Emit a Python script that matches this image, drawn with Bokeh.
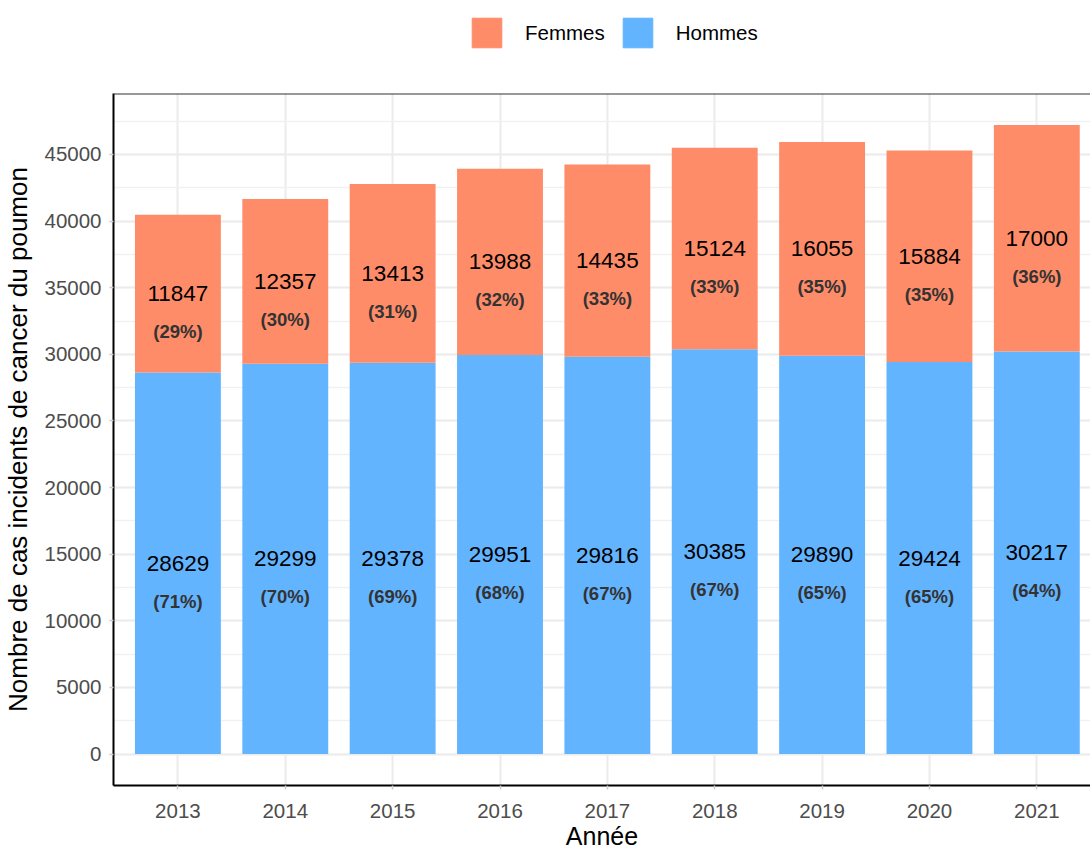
from bokeh.plotting import figure
from bokeh.layouts import column
from bokeh.models import (ColumnDataSource, Range1d, Legend, LegendItem,
                          SingleIntervalTicker, FixedTicker, Span)
from bokeh.core.properties import value
from bokeh.embed import file_html
from bokeh.resources import INLINE

years = [2013, 2014, 2015, 2016, 2017, 2018, 2019, 2020, 2021]
hommes = [28629, 29299, 29378, 29951, 29816, 30385, 29890, 29424, 30217]
femmes = [11847, 12357, 13413, 13988, 14435, 15124, 16055, 15884, 17000]
pct_hommes = [71, 70, 69, 68, 67, 67, 65, 65, 64]
pct_femmes = [29, 30, 31, 32, 33, 33, 35, 35, 36]

COL_F = "#FF8C69"
COL_H = "#63B4FF"
FONT = "Liberation Sans"
W = 1090

totals = [h + f for h, f in zip(hommes, femmes)]
pad = 0.05 * max(totals)

src = ColumnDataSource(dict(
    year=years,
    Hommes=hommes,
    Femmes=femmes,
    h_mid=[h / 2 for h in hommes],
    f_mid=[h + f / 2 for h, f in zip(hommes, femmes)],
    h_lab=[str(v) for v in hommes],
    f_lab=[str(v) for v in femmes],
    h_pct=["(%d%%)" % v for v in pct_hommes],
    f_pct=["(%d%%)" % v for v in pct_femmes],
))

# ---- legend strip (its bars lie outside its own view; only the legend shows) ----
lg = figure(width=W, height=75, output_backend="svg", toolbar_location=None,
            x_axis_type=None, y_axis_type=None,
            x_range=Range1d(0, 1), y_range=Range1d(0, 1),
            min_border=0)
lg.outline_line_color = None
lg.grid.visible = False
rf = lg.vbar(x="year", top="Femmes", width=0.8, color=COL_F, source=src)
rh = lg.vbar(x="year", top="Hommes", width=0.8, color=COL_H, source=src)
legend = Legend(items=[LegendItem(label="Femmes", renderers=[rf]),
                       LegendItem(label="Hommes", renderers=[rh])],
                orientation="horizontal", location=(355, 24),
                glyph_width=37, glyph_height=37, label_standoff=20, spacing=14,
                padding=0, margin=0, border_line_color=None,
                background_fill_alpha=0,
                label_text_font=FONT, label_text_font_size="20.5px",
                label_text_color="black")
lg.add_layout(legend, "center")

# ---- main plot ----
p = figure(width=W, height=777, output_backend="svg", toolbar_location=None,
           x_range=Range1d(years[0] - 0.6, years[-1] + 0.5),
           y_range=Range1d(-pad, max(totals) + pad),
           min_border_left=113, min_border_right=0, min_border_top=18,
           min_border_bottom=64)
p.outline_line_color = None
p.background_fill_color = "white"

p.vbar_stack(["Hommes", "Femmes"], x="year", width=0.8, color=[COL_H, COL_F],
             line_color=None, source=src)

for ycol, tcol, size, style, col, off in [
        ("h_mid", "h_lab", "22.5px", "normal", "black", 0),
        ("h_mid", "h_pct", "18.5px", "bold", "#333333", 38),
        ("f_mid", "f_lab", "22.5px", "normal", "black", 0),
        ("f_mid", "f_pct", "18.5px", "bold", "#333333", 38)]:
    p.text(x="year", y=ycol, text=tcol, source=src, text_align="center",
           text_baseline="middle", text_font=value(FONT), text_font_size=size,
           text_font_style=style, text_color=col, y_offset=off)

p.xaxis.ticker = FixedTicker(ticks=years)
p.yaxis.ticker = SingleIntervalTicker(interval=5000, num_minor_ticks=2)
p.xaxis.axis_label = "Année"
p.yaxis.axis_label = "Nombre de cas incidents de cancer du poumon"
for ax in (p.xaxis[0], p.yaxis[0]):
    ax.axis_line_color = "black"
    ax.axis_line_width = 2
    ax.major_tick_line_color = "#CCCCCC"
    ax.major_tick_line_width = 1.5
    ax.major_tick_out = 4
    ax.major_tick_in = 0
    ax.minor_tick_line_color = None
    ax.major_label_text_font = FONT
    ax.major_label_text_font_size = "20.5px"
    ax.major_label_text_color = "#4D4D4D"
    ax.axis_label_text_font = FONT
    ax.axis_label_text_font_style = "normal"
    ax.axis_label_text_color = "black"
p.xaxis.axis_label_text_font_size = "25px"
p.yaxis.axis_label_text_font_size = "26px"
p.xaxis.major_label_standoff = 14
p.xaxis.axis_label_standoff = 1
p.yaxis.major_label_standoff = 8
p.yaxis.axis_label_standoff = 8
p.yaxis.formatter.use_scientific = False

p.xgrid.grid_line_color = "#EBEBEB"
p.xgrid.grid_line_width = 2
p.ygrid.grid_line_color = "#EBEBEB"
p.ygrid.grid_line_width = 2
p.ygrid.minor_grid_line_color = "#F1F1F1"
p.ygrid.minor_grid_line_width = 1.5

p.add_layout(Span(location=max(totals) + pad, dimension="width",
                  line_color="#333333", line_width=2))

layout = column(lg, p, spacing=0)
open("out.html", "w").write(file_html(layout, INLINE))
